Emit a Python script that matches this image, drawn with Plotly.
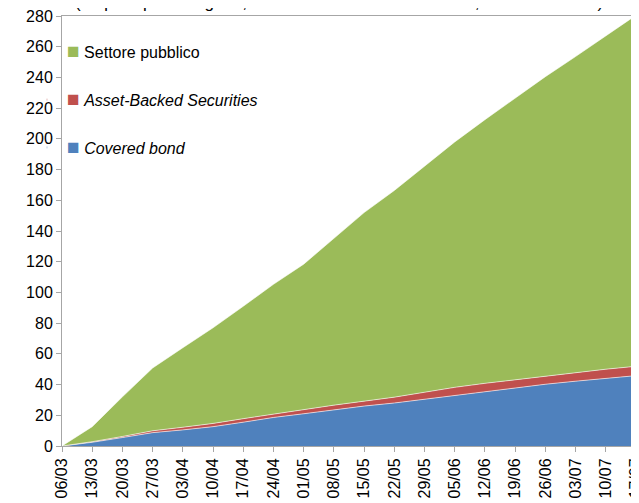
import plotly.graph_objects as go

dates = ["06/03", "13/03", "20/03", "27/03", "03/04", "10/04", "17/04", "24/04",
         "01/05", "08/05", "15/05", "22/05", "29/05", "05/06", "12/06", "19/06",
         "26/06", "03/07", "10/07", "17/07"]

covered_bond = [0, 2.4, 5.5, 8.7, 10.5, 12.6, 15.5, 18.6, 21.0, 23.5,
                26.0, 28.0, 30.5, 33.0, 35.5, 37.8, 40.2, 42.2, 44.0, 45.8]
asset_backed = [0, 0.4, 0.7, 1.2, 1.7, 2.1, 2.3, 2.2, 2.6, 3.1,
                3.2, 3.8, 4.5, 5.2, 5.3, 5.4, 5.4, 5.8, 6.0, 6.1]
settore_pubblico = [0, 9.8, 25.8, 40.9, 51.8, 62.3, 73.2, 84.5, 94.8, 108.4,
                    122.8, 134.6, 147.0, 159.8, 171.7, 183.3, 194.9, 205.6, 217.3, 228.6]

y_ticks = list(range(0, 281, 20))

series = [
    ("Covered bond", "<i>Covered bond</i>", covered_bond, "#4F81BD"),
    ("ABS", "<i>Asset-Backed Securities</i>", asset_backed, "#C0504D"),
    ("Settore pubblico", "Settore pubblico", settore_pubblico, "#9BBB59"),
]

FONT = "Liberation Sans, Arial, sans-serif"
x = list(range(len(dates)))
fig = go.Figure()
for key, label, vals, col in series:
    fig.add_trace(go.Scatter(
        x=x, y=vals, stackgroup="one", mode="lines",
        line=dict(width=0.8, color="rgba(255,255,255,0.75)"),
        fillcolor=col, showlegend=False, hoverinfo="skip"))
# legend entries, top to bottom: Settore pubblico, ABS, Covered bond
for key, label, vals, col in reversed(series):
    fig.add_trace(go.Scatter(
        x=[None], y=[None], mode="markers", legendgroup=key,
        name=f'<span style="color:{col};font-size:21px">\u25A0</span> {label}',
        marker=dict(symbol="square", size=1, opacity=0, color=col)))

fig.add_annotation(
    text="(acquisti per categoria, consistenze in miliardi di euro, dati settimanali)",
    xref="paper", yref="paper", x=0.4826, y=1.0, yshift=2,
    xanchor="center", yanchor="bottom", showarrow=False,
    font=dict(size=17, color="#000000", family=FONT))

axis_common = dict(showline=True, linecolor="#A6A6A6", linewidth=1, mirror=True,
                   ticks="outside", tickcolor="#A6A6A6", ticklen=5, showgrid=False,
                   zeroline=False, automargin=False, ticklabeloverflow="allow",
                   tickfont=dict(size=16, color="#000000", family=FONT))

fig.update_xaxes(range=[0, len(dates) - 1], tickvals=x, ticktext=dates,
                 tickangle=-90, **axis_common)
fig.update_yaxes(range=[0, 280], tickvals=y_ticks, **axis_common)

# the page adds an 8px body margin, so the figure is sized to fit the window
fig.update_layout(
    width=631, height=495,
    margin=dict(l=54, r=3, t=8, b=57),
    paper_bgcolor="white", plot_bgcolor="white",
    font=dict(family=FONT, size=16, color="#000000"),
    legend=dict(x=-0.061, y=0.956, xanchor="left", yanchor="top",
                traceorder="grouped", tracegroupgap=24,
                itemwidth=30, bgcolor="rgba(0,0,0,0)",
                font=dict(size=16, color="#000000", family=FONT)),
)

fig.write_html("out.html")
